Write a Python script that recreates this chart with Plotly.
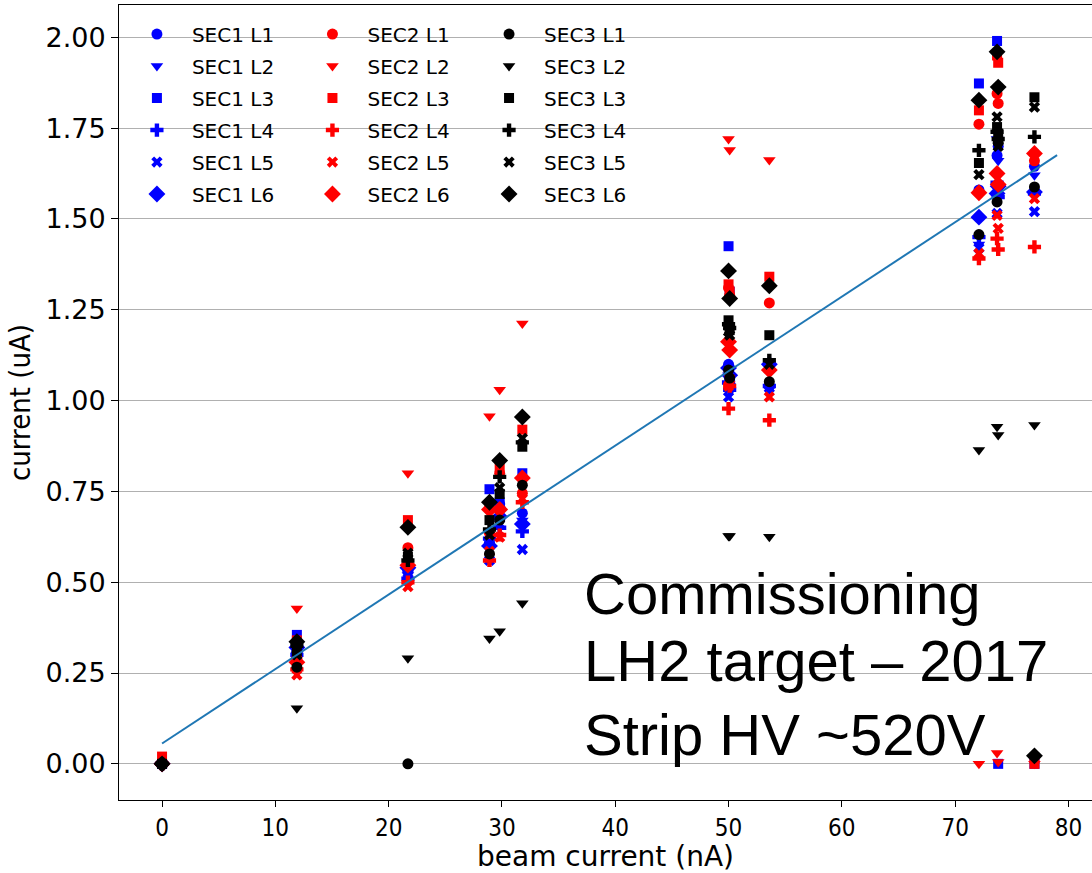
import plotly.graph_objects as go

# Beam current of each run (nA); some runs were taken at almost the same current
beam_current = [0.0, 11.9, 21.7, 28.9, 29.8, 31.8, 50.0, 50.1, 53.6, 72.1, 73.7, 73.8, 77.0]

# Measured strip currents (uA), one list per sector / layer
sec1_l1 = [0.00, 0.31, 0.53, 0.61, 0.715, 0.69, 1.10, 1.06, 1.04, 1.58, 1.675, 1.70, 1.645]
sec1_l2 = [0.00, 0.30, 0.52, 0.64, 0.70, 0.67, 1.07, 1.04, 1.03, 1.43, 1.72, 1.66, 1.62]
sec1_l3 = [0.00, 0.355, 0.55, 0.756, 0.72, 0.80, 1.425, 1.30, 1.10, 1.873, 1.99, 0.00, 0.00]
sec1_l4 = [0.00, 0.30, 0.51, 0.62, 0.65, 0.64, 1.05, 1.03, 1.04, 1.45, 1.60, 1.56, 1.57]
sec1_l5 = [0.00, 0.29, 0.525, 0.56, 0.66, 0.59, 1.01, 1.035, 1.035, 1.42, 1.515, 1.58, 1.52]
sec1_l6 = [0.00, 0.32, 0.54, 0.60, 0.68, 0.66, 1.09, 1.07, 1.10, 1.505, 1.57, 1.59, 1.574]

sec2_l1 = [0.00, 0.29, 0.595, 0.635, 0.80, 0.745, 1.31, 1.29, 1.269, 1.761, 1.845, 1.818, 1.66]
sec2_l2 = [0.00, 0.428, 0.80, 0.957, 1.03, 1.212, 1.72, 1.69, 1.662, 0.00, 0.03, 0.005, 0.00]
sec2_l3 = [0.02, 0.34, 0.671, 0.708, 0.818, 0.92, 1.32, 1.30, 1.341, 1.799, 1.95, 1.93, 0.00]
sec2_l4 = [0.00, 0.26, 0.50, 0.56, 0.63, 0.72, 0.978, 1.04, 0.946, 1.391, 1.446, 1.416, 1.423]
sec2_l5 = [0.00, 0.245, 0.488, 0.585, 0.624, 0.73, 1.04, 1.06, 1.01, 1.405, 1.51, 1.474, 1.556]
sec2_l6 = [0.00, 0.28, 0.547, 0.70, 0.70, 0.787, 1.162, 1.139, 1.084, 1.572, 1.625, 1.595, 1.68]

sec3_l1 = [0.00, 0.266, 0.00, 0.578, 0.671, 0.767, 1.084, 1.062, 1.052, 1.457, 1.547, 1.71, 1.588]
sec3_l2 = [0.00, 0.153, 0.291, 0.345, 0.365, 0.442, 0.627, 0.627, 0.625, 0.864, 0.928, 0.905, 0.933]
sec3_l3 = [0.00, 0.31, 0.57, 0.671, 0.743, 0.873, 1.221, 1.194, 1.18, 1.654, 1.753, 1.735, 1.835]
sec3_l4 = [0.00, 0.325, 0.56, 0.645, 0.79, 0.885, 1.21, 1.20, 1.111, 1.689, 1.74, 1.72, 1.726]
sec3_l5 = [0.00, 0.30, 0.58, 0.63, 0.76, 0.896, 1.19, 1.18, 1.10, 1.622, 1.781, 1.70, 1.808]
sec3_l6 = [0.00, 0.336, 0.651, 0.72, 0.835, 0.955, 1.357, 1.281, 1.316, 1.827, 1.96, 1.863, 0.022]

# Linear fit of current vs beam current
fit_intercept = 0.056
fit_slope = 0.0205
fit_x_max = 79.0

sectors = [
    ("SEC1", "#0000ff", [sec1_l1, sec1_l2, sec1_l3, sec1_l4, sec1_l5, sec1_l6], "legend"),
    ("SEC2", "#ff0000", [sec2_l1, sec2_l2, sec2_l3, sec2_l4, sec2_l5, sec2_l6], "legend2"),
    ("SEC3", "#000000", [sec3_l1, sec3_l2, sec3_l3, sec3_l4, sec3_l5, sec3_l6], "legend3"),
]
layer_symbols = [
    ("circle", 11), ("triangle-down", 11), ("square", 10),
    ("cross", 11), ("x", 10), ("diamond", 13),
]

fig = go.Figure()
for sec_name, color, layers, legend_id in sectors:
    for i, values in enumerate(layers):
        symbol, size = layer_symbols[i]
        name = f"{sec_name} L{i + 1}"
        fig.add_trace(go.Scatter(
            x=beam_current, y=values, mode="markers", name=name,
            legendgroup=name, legend=legend_id,
            marker=dict(symbol=symbol, size=size, color=color, line=dict(width=0)),
        ))

fit_x = [0.0, fit_x_max]
fit_y = [fit_intercept + fit_slope * v for v in fit_x]
fig.add_trace(go.Scatter(x=fit_x, y=fit_y, mode="lines", showlegend=False,
                         line=dict(color="#1f77b4", width=2)))

legend_style = dict(
    bgcolor="rgba(0,0,0,0)", borderwidth=0, tracegroupgap=3, itemwidth=60,
    font=dict(family="DejaVu Sans", size=20, color="black"),
    xanchor="left", yanchor="top", y=0.988,
)
condensed = "DejaVu Sans Condensed, Liberation Sans Narrow, DejaVu Sans"
label_font = dict(family="Liberation Sans, Arial", size=58, color="black")
note_lines = [("Commissioning", 0.469), ("LH2 target \u2013 2017", 0.284), ("Strip HV ~520V", 0.081)]
annotations = [
    dict(text=t, x=37.07, y=yv, xref="x", yref="y", xanchor="left", yanchor="middle",
         showarrow=False, font=label_font)
    for t, yv in note_lines
]

fig.update_layout(
    width=1092, height=873,
    margin=dict(l=119, r=0, t=5, b=73),
    paper_bgcolor="white", plot_bgcolor="white",
    legend=dict(legend_style, x=0.003),
    legend2=dict(legend_style, x=0.1834),
    legend3=dict(legend_style, x=0.3649),
    annotations=annotations,
    xaxis=dict(
        range=[-3.8, 82.08], tickvals=[0, 10, 20, 30, 40, 50, 60, 70, 80],
        showgrid=False, zeroline=False, showline=True, linecolor="black", linewidth=1,
        mirror=True, ticks="outside", ticklen=6, tickcolor="black",
        tickfont=dict(family=condensed, size=24, color="black"),
        automargin=False,
        title=dict(text="beam current (nA)", standoff=5,
                   font=dict(family="DejaVu Sans", size=28, color="black")),
    ),
    yaxis=dict(
        range=[-0.0995, 2.089], tickvals=[0, 0.25, 0.5, 0.75, 1.0, 1.25, 1.5, 1.75, 2.0],
        tickformat=".2f",
        showgrid=True, gridcolor="#b0b0b0", gridwidth=1, zeroline=False,
        showline=True, linecolor="black", linewidth=1,
        ticks="outside", ticklen=7, tickcolor="black",
        tickfont=dict(family="DejaVu Sans", size=27, color="black"),
        automargin=False,
        title=dict(text="current (uA)", standoff=6,
                   font=dict(family=condensed, size=29, color="black")),
    ),
)

fig.write_html("out.html")
